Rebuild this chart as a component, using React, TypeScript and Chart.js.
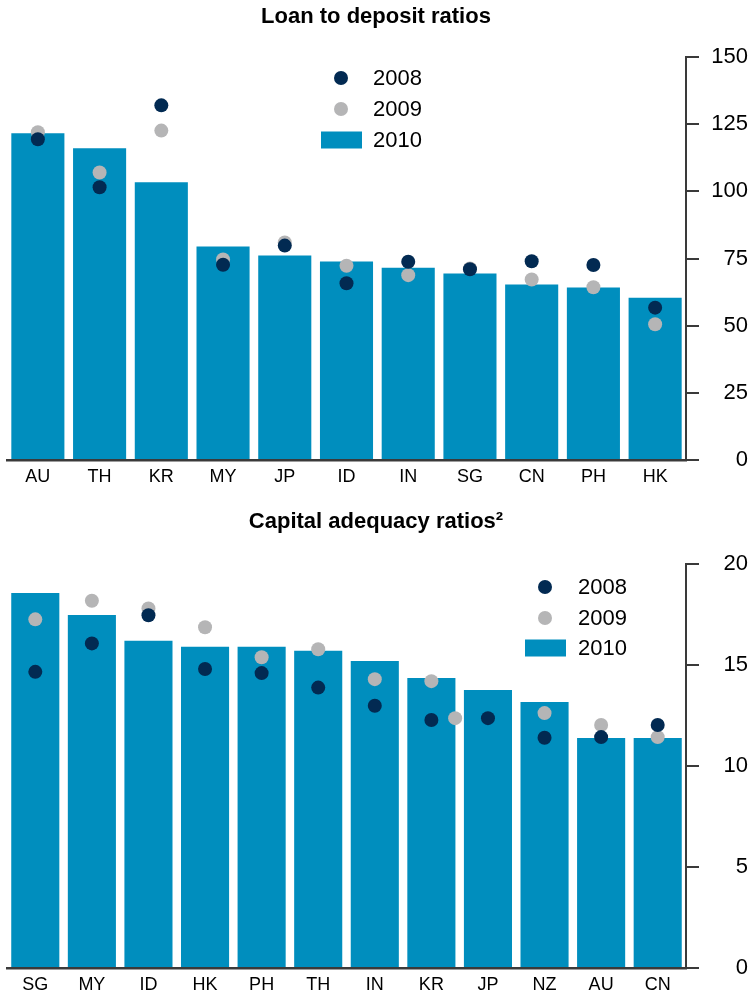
import React, { useEffect, useRef } from "react";
import { Chart, registerables } from "chart.js";

Chart.register(...registerables);

// ---------- Data: Loan to deposit ratios ----------
const loanCategories = ["AU", "TH", "KR", "MY", "JP", "ID", "IN", "SG", "CN", "PH", "HK"];
const loan2010 = [121.6, 116.0, 103.4, 79.5, 76.1, 73.9, 71.6, 69.4, 65.3, 64.2, 60.4];
const loan2008 = [119.4, 101.5, 132.0, 72.7, 79.8, 65.8, 73.8, 71.0, 74.0, 72.6, 56.7];
const loan2009 = [122.0, 107.0, 122.6, 74.6, 81.0, 72.3, 68.8, 71.3, 67.2, 64.3, 50.5];
const loanTickMax = 150;
const loanTickStep = 25;

// ---------- Data: Capital adequacy ratios ----------
const capCategories = ["SG", "MY", "ID", "HK", "PH", "TH", "IN", "KR", "JP", "NZ", "AU", "CN"];
const cap2010 = [18.56, 17.47, 16.2, 15.9, 15.9, 15.7, 15.2, 14.36, 13.76, 13.17, 11.39, 11.39];
const cap2008 = [14.66, 16.07, 17.46, 14.8, 14.6, 13.88, 12.98, 12.28, 12.37, 11.4, 11.43, 12.03];
const cap2009 = [17.26, 18.18, 17.8, 16.87, 15.38, 15.78, 14.3, 14.2, 12.37, 12.62, 12.03, 11.43];
const capTickMax = 20;
const capTickStep = 5;

const seriesLabels = ["2008", "2009", "2010"];

// ---------- Styles ----------
const BAR = "#008EBE";
const NAVY = "#022A52";
const GREY = "#B5B5B6";
const AXIS = "#3a3a3a";
const FONT = "'Liberation Sans', Arial, Helvetica, sans-serif";
// the reference draws the JP 2009 marker displaced to the left of its category
const capDotShift2009: Record<number, number> = { 8: -0.58 };

type Decor = {
  title: string;
  titleY: number;
  dotX: number;
  rectL: number;
  rectR: number;
  textX: number;
  rowY: number[];
  rectH: number;
};

function decorPlugin(d: Decor) {
  return {
    id: "decor",
    afterDraw(chart: any) {
      const ctx = chart.ctx as CanvasRenderingContext2D;
      ctx.save();
      ctx.fillStyle = "#000";
      ctx.font = `bold 22px ${FONT}`;
      ctx.textAlign = "center";
      ctx.textBaseline = "middle";
      ctx.fillText(d.title, 376, d.titleY);

      // legend
      ctx.fillStyle = NAVY;
      ctx.beginPath();
      ctx.arc(d.dotX, d.rowY[0], 7, 0, Math.PI * 2);
      ctx.fill();
      ctx.fillStyle = GREY;
      ctx.beginPath();
      ctx.arc(d.dotX, d.rowY[1], 7, 0, Math.PI * 2);
      ctx.fill();
      ctx.fillStyle = BAR;
      ctx.fillRect(d.rectL, d.rowY[2] - d.rectH / 2, d.rectR - d.rectL, d.rectH);

      ctx.fillStyle = "#000";
      ctx.font = `22px ${FONT}`;
      ctx.textAlign = "left";
      ctx.textBaseline = "middle";
      seriesLabels.forEach((s, i) => ctx.fillText(s, d.textX, d.rowY[i] + 1));
      ctx.restore();
    },
  };
}

function buildConfig(
  cats: string[],
  v2010: number[],
  v2008: number[],
  v2009: number[],
  yMax: number,
  yStep: number,
  padTop: number,
  xAxisH: number,
  barPct: number,
  decor: Decor,
  shift09: Record<number, number>
) {
  const n = cats.length;
  return {
    type: "bar",
    data: {
      datasets: [
        {
          type: "line",
          label: "2008",
          data: v2008.map((v, i) => ({ x: i, y: v })),
          showLine: false,
          backgroundColor: NAVY,
          borderColor: NAVY,
          borderWidth: 0,
          pointRadius: 7,
          pointHoverRadius: 7,
          pointBorderWidth: 0,
          order: 1,
        },
        {
          type: "line",
          label: "2009",
          data: v2009.map((v, i) => ({ x: i + (shift09[i] || 0), y: v })),
          showLine: false,
          backgroundColor: GREY,
          borderColor: GREY,
          borderWidth: 0,
          pointRadius: 7,
          pointHoverRadius: 7,
          pointBorderWidth: 0,
          order: 2,
        },
        {
          type: "bar",
          label: "2010",
          data: v2010.map((v, i) => ({ x: i, y: v })),
          backgroundColor: BAR,
          borderWidth: 0,
          categoryPercentage: 1,
          barPercentage: barPct,
          order: 3,
        },
      ],
    },
    options: {
      animation: false,
      responsive: false,
      events: [],
      layout: { padding: { left: 6, right: 4, top: padTop, bottom: 0 } },
      plugins: { legend: { display: false }, tooltip: { enabled: false }, title: { display: false } },
      scales: {
        x: {
          type: "linear",
          position: "bottom",
          offset: false,
          min: -0.5,
          max: n - 0.5,
          grid: { display: false, drawTicks: false, offset: false },
          border: { display: true, color: AXIS, width: 2.5 },
          ticks: {
            color: "#000",
            font: { size: 18, family: FONT },
            padding: 6,
            maxRotation: 0,
            autoSkip: false,
            callback: (v: number) => (Number.isInteger(v) && cats[v] !== undefined ? cats[v] : ""),
          },
          afterBuildTicks: (s: any) => {
            s.ticks = cats.map((_, i) => ({ value: i }));
          },
          afterFit: (s: any) => {
            s.height = xAxisH;
          },
        },
        y: {
          type: "linear",
          position: "right",
          min: 0,
          max: yMax,
          grid: { display: true, drawOnChartArea: false, drawTicks: true, tickLength: 13, color: AXIS, lineWidth: 2 },
          border: { display: true, color: AXIS, width: 2 },
          ticks: {
            stepSize: yStep,
            color: "#000",
            font: { size: 22, family: FONT },
            padding: 7,
            crossAlign: "far",
          },
          afterFit: (s: any) => {
            s.width = 62;
          },
        },
      },
    },
    plugins: [decorPlugin(decor)],
  } as any;
}

function ChartCanvas({ config, width, height }: { config: any; width: number; height: number }) {
  const ref = useRef<HTMLCanvasElement | null>(null);
  useEffect(() => {
    if (!ref.current) return;
    const chart = new Chart(ref.current, config);
    return () => chart.destroy();
  }, [config]);
  return <canvas ref={ref} width={width} height={height} style={{ display: "block", width, height }} />;
}

const loanConfig = buildConfig(
  loanCategories,
  loan2010,
  loan2008,
  loan2009,
  loanTickMax,
  loanTickStep,
  57,
  40,
  0.86,
  {
    title: "Loan to deposit ratios",
    titleY: 17,
    dotX: 341,
    rectL: 321,
    rectR: 362,
    textX: 373,
    rowY: [78, 109, 140],
    rectH: 17,
  },
  {}
);

const capConfig = buildConfig(
  capCategories,
  cap2010,
  cap2008,
  cap2009,
  capTickMax,
  capTickStep,
  64,
  29,
  0.85,
  {
    title: "Capital adequacy ratios\u00B2",
    titleY: 22,
    dotX: 545,
    rectL: 525,
    rectR: 566,
    textX: 578,
    rowY: [87, 118, 148],
    rectH: 17,
  },
  capDotShift2009
);

export default function App() {
  return (
    <div style={{ position: "absolute", left: 0, top: 0, width: 752, height: 997, background: "#fff" }}>
      <ChartCanvas config={loanConfig} width={752} height={500} />
      <ChartCanvas config={capConfig} width={752} height={497} />
    </div>
  );
}
